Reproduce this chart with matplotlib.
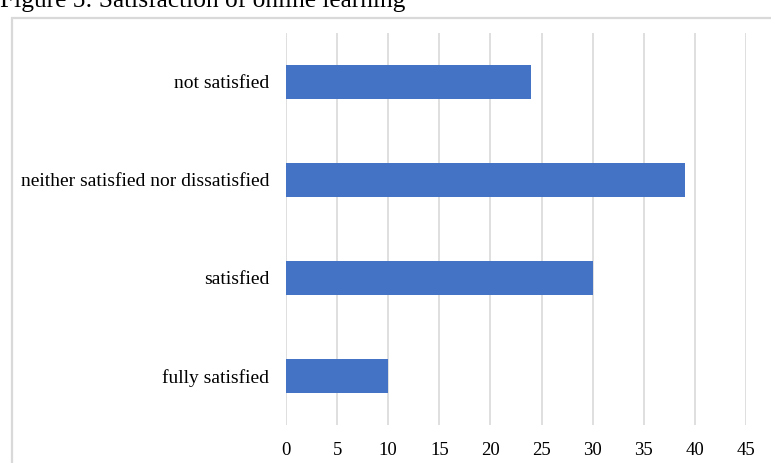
import matplotlib.pyplot as plt
from matplotlib.patches import Rectangle

categories = ['fully satisfied', 'satisfied', 'neither satisfied nor dissatisfied', 'not satisfied']
values = [10, 30, 39, 24]
xticks = [0, 5, 10, 15, 20, 25, 30, 35, 40, 45]
title = 'Figure 5: Satisfaction of online learning'

plt.rcParams['font.family'] = ['Liberation Serif', 'DejaVu Serif']

fig = plt.figure(figsize=(7.71, 4.63), dpi=100)
W, H = 771, 463

# outer chart frame (light grey box, cut by the image edges)
fig.patches.append(Rectangle((12 / W, -0.1), 1.2, 1 - 18 / H + 0.1, transform=fig.transFigure,
                             fill=False, edgecolor='#d9d9d9', linewidth=1.6))

fig.text(0.0, 1 - 7 / H, title, fontsize=18.3, va='baseline', ha='left')

ax = fig.add_axes([286 / W, 1 - 425 / H, (746 - 286) / W, (425 - 33) / H])
ax.barh(range(len(categories)), values, height=0.35, color='#4472C4', zorder=3)
ax.set_yticks(range(len(categories)))
ax.set_yticklabels(categories, fontsize=14)
ax.set_xticks(xticks)
ax.set_xticklabels([str(t) for t in xticks], fontsize=13.5)
ax.set_xlim(0, 45)
ax.set_ylim(-0.5, 3.5)
ax.grid(axis='x', color='#d9d9d9', linewidth=1.2, zorder=0)
for s in ax.spines.values():
    s.set_visible(False)
ax.tick_params(axis='both', length=0)
ax.tick_params(axis='x', pad=12)
ax.tick_params(axis='y', pad=12)

plt.savefig('out.png', dpi=100)
